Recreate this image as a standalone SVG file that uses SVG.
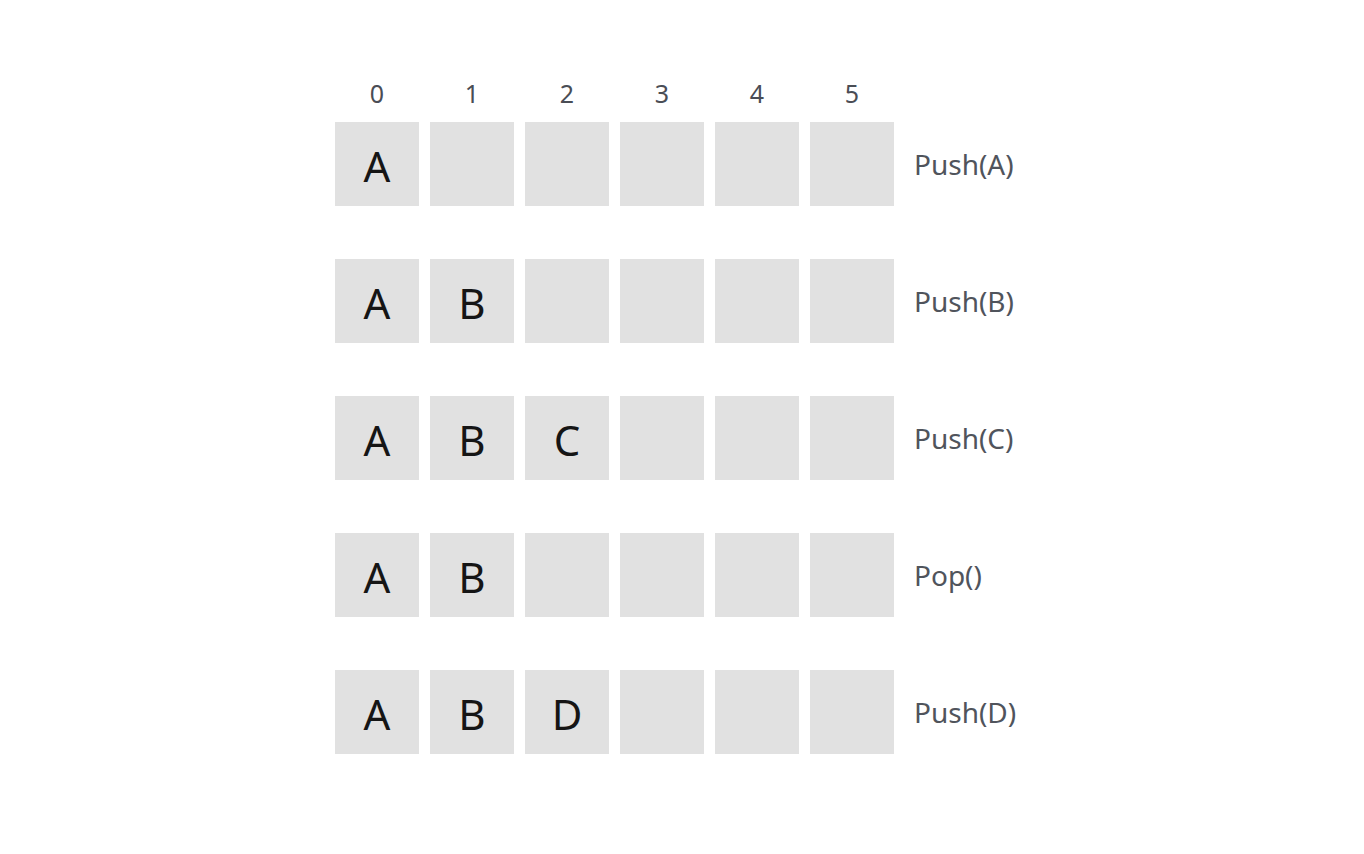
<svg xmlns="http://www.w3.org/2000/svg" width="1364" height="854" viewBox="0 0 1364 854">
<style>
.cell{fill:#e1e1e1}
.idx{font-family:"Noto Sans","Open Sans",sans-serif;font-size:25px;fill:#4a4d55;text-anchor:middle}
.val{font-family:"Noto Sans","Open Sans",sans-serif;font-size:42px;fill:#151515;text-anchor:middle}
.op{font-family:"Noto Sans","Open Sans",sans-serif;font-size:28px;fill:#50545c}
</style>
<defs>
<g id="row">
<rect class="cell" x="335" y="0" width="84" height="84"/>
<rect class="cell" x="430" y="0" width="84" height="84"/>
<rect class="cell" x="525" y="0" width="84" height="84"/>
<rect class="cell" x="620" y="0" width="84" height="84"/>
<rect class="cell" x="715" y="0" width="84" height="84"/>
<rect class="cell" x="810" y="0" width="84" height="84"/>
</g>
</defs>
<rect width="1364" height="854" fill="#ffffff"/>
<g id="indices">
<text class="idx" x="377" y="103">0</text>
<text class="idx" x="472" y="103">1</text>
<text class="idx" x="567" y="103">2</text>
<text class="idx" x="662" y="103">3</text>
<text class="idx" x="757" y="103">4</text>
<text class="idx" x="852" y="103">5</text>
</g>
<g id="row1">
<use href="#row" y="122"/>
<text class="val" x="377" y="182">A</text>
<text class="op" x="914" y="175">Push(A)</text>
</g>
<g id="row2">
<use href="#row" y="259"/>
<text class="val" x="377" y="319">A</text>
<text class="val" x="472" y="319">B</text>
<text class="op" x="914" y="312">Push(B)</text>
</g>
<g id="row3">
<use href="#row" y="396"/>
<text class="val" x="377" y="456">A</text>
<text class="val" x="472" y="456">B</text>
<text class="val" x="567" y="456">C</text>
<text class="op" x="914" y="449">Push(C)</text>
</g>
<g id="row4">
<use href="#row" y="533"/>
<text class="val" x="377" y="593">A</text>
<text class="val" x="472" y="593">B</text>
<text class="op" x="914" y="586">Pop()</text>
</g>
<g id="row5">
<use href="#row" y="670"/>
<text class="val" x="377" y="730">A</text>
<text class="val" x="472" y="730">B</text>
<text class="val" x="567" y="730">D</text>
<text class="op" x="914" y="723">Push(D)</text>
</g>
<g id="connectors"/>
</svg>
